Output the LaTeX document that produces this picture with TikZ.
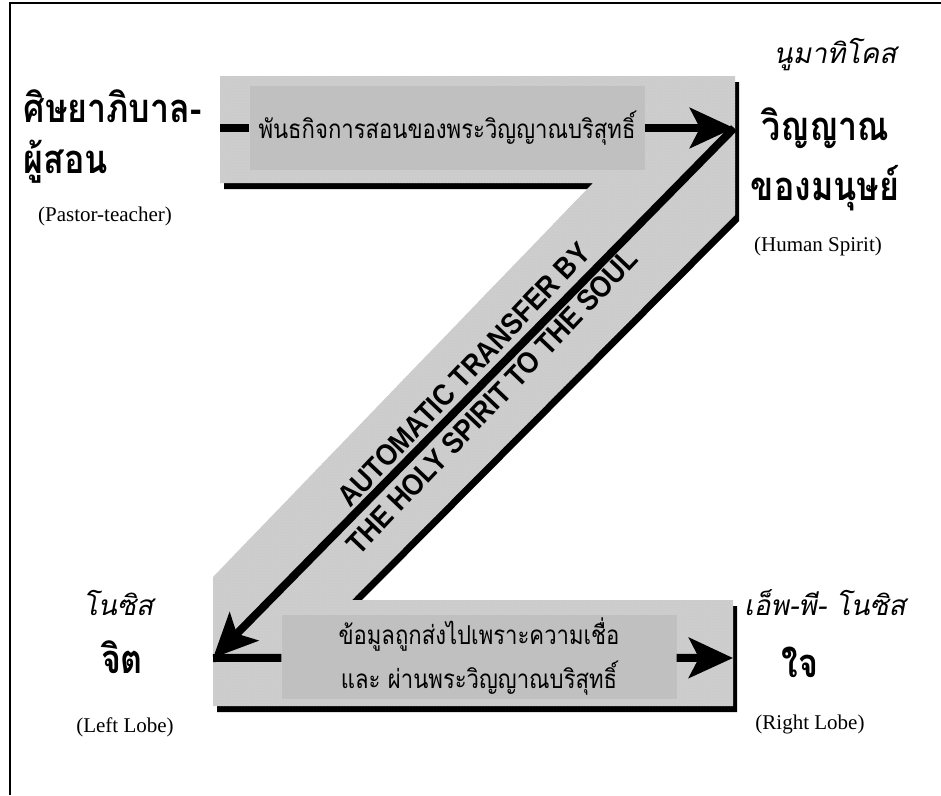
\documentclass[tikz,border=0pt]{standalone}
\usepackage{fontspec}
\setmainfont{Liberation Serif}
\newfontfamily\thaifont[Script=Thai,FakeStretch=0.85]{Loma}
\newfontfamily\thaiheavy[Script=Thai,FakeStretch=0.85]{Loma}
\newfontfamily\thaislant[Script=Thai,FakeSlant=0.2]{Loma}
\newfontfamily\capsfont[FakeStretch=0.88]{Liberation Sans}
\usetikzlibrary{arrows.meta,patterns}
\definecolor{bandgray}{RGB}{206,206,206}
\definecolor{boxgray}{RGB}{192,192,192}
\newcommand{\zband}{(220,76) -- (735,76) -- (735,215) -- (352,600) -- (733,600) -- (733,706) -- (213,706) -- (213,577) -- (593,183) -- (220,183) -- cycle}

\begin{document}
\begin{tikzpicture}[x=1pt,y=-1pt,
		flow/.style={line width=8pt},
		bighead/.style={-{Stealth[length=44pt,width=40pt,inset=10pt]}},
		textbox/.style={fill=boxgray, inner sep=0pt, minimum width=395pt, minimum height=84pt, align=center, font=\thaifont\fontsize{26}{44}\selectfont},
		thaibold/.style={font=\thaiheavy\bfseries\fontsize{40}{44}\selectfont},
		thaiital/.style={font=\thaislant\fontsize{28}{32}\selectfont},
		latin/.style={font=\fontsize{21}{24}\selectfont}]
		\useasboundingbox (0,0) rectangle (941,795);
		\draw[line width=2pt] (10,795) -- (10,3) -- (941,3);
		
		% the Z band with its shadow
		\fill[black, shift={(4,6)}] \zband;
		\fill[bandgray] \zband;
		\fill[pattern=crosshatch dots, pattern color=black!22] \zband;
		
		\coordinate (pastor) at (220,128);
		\coordinate (spirit) at (734,128);
		\coordinate (left) at (213,658);
		\coordinate (right) at (733,658);
		
		\node[textbox] (teach) at (447,128) {พันธกิจการสอนของพระวิญญาณบริสุทธิ์};
		\node[textbox] (faith) at (479,657) {ข้อมูลถูกส่งไปเพราะความเชื่อ\\และ ผ่านพระวิญญาณบริสุทธิ์};
		
		\draw[flow] (pastor) -- (teach);
		\draw[flow,bighead] (teach) -- (spirit);
		\draw[flow,bighead] (spirit) -- (left);
		\draw[flow] (left) -- (faith);
		\draw[flow,bighead] (faith) -- (right);
		
		\node[rotate=46.5, align=center, font=\capsfont\bfseries\fontsize{30}{39}\selectfont] (transfer) at (478,388) {AUTOMATIC TRANSFER BY\\THE HOLY SPIRIT TO THE SOUL};
		
		% labels round the Z
		\node[thaibold, anchor=west] (pastor_a) at (20,106) {ศิษยาภิบาล-};
		\node[thaibold, anchor=west] (pastor_b) at (20,162) {ผู้สอน};
		\node[latin] (pastor_en) at (105,216) {(Pastor-teacher)};
		
		\node[thaiital] (spirit_gr) at (835,55) {นูมาทิโคส};
		\node[thaibold] (spirit_a) at (825,128) {วิญญาณ};
		\node[thaibold] (spirit_b) at (825,188) {ของมนุษย์};
		\node[latin] (spirit_en) at (818,246) {(Human Spirit)};
		
		\node[thaiital] (left_gr) at (118,603) {โนซิส};
		\node[thaibold] (left_th) at (122,657) {จิต};
		\node[latin] (left_en) at (125,727) {(Left Lobe)};
		
		\node[thaiital] (right_gr) at (825,603) {เอ็พ-พี- โนซิส};
		\node[thaibold] (right_th) at (800,662) {ใจ};
		\node[latin] (right_en) at (810,724) {(Right Lobe)};
	\end{tikzpicture}
\end{document}
